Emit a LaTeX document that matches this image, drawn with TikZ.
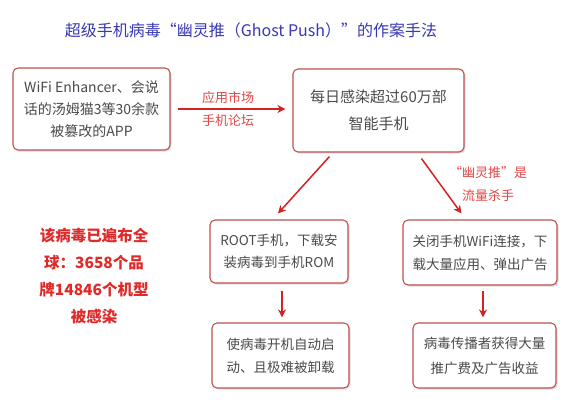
\documentclass[tikz,border=0pt]{standalone}
\usepackage{fontspec}
\setmainfont{Noto Sans CJK SC}
\usetikzlibrary{shadows,arrows.meta}
\definecolor{boxred}{HTML}{C0504D}
\definecolor{arrred}{HTML}{D42222}
\definecolor{txtgray}{HTML}{4A4A4A}
\definecolor{titleblue}{HTML}{3838B4}
\definecolor{lblred}{HTML}{E04848}
\definecolor{bigred}{HTML}{E02A2A}
\tikzset{
  box/.style={draw=boxred, line width=1.1pt, rounded corners=5pt, fill=white,
    drop shadow={shadow xshift=1.5pt, shadow yshift=-1.5pt, fill=black!25},
    align=center, text=txtgray, inner sep=2pt},
  arr/.style={draw=arrred, line width=1.5pt, -{Stealth[length=8pt,width=8pt]}},
  lbl/.style={text=lblred, align=center, font=\fontsize{13}{23}\selectfont},
}
\begin{document}
\begin{tikzpicture}[x=1pt,y=-1pt]
\useasboundingbox (0,0) rectangle (578,409);
\fill[white] (0,0) rectangle (578,409);
\node[text=titleblue, font=\fontsize{16}{20}\selectfont] (title) at (251,30) {超级手机病毒“幽灵推（Ghost Push）”的作案手法};

\node[box, minimum width=157pt, minimum height=82pt, font=\fontsize{14}{22}\selectfont] (b1) at (91.5,109) {WiFi Enhancer、会说\\话的汤姆猫3等30余款\\被篡改的APP};
\node[box, minimum width=171pt, minimum height=83pt, font=\fontsize{15}{27}\selectfont] (b2) at (378.5,110.5) {每日感染超过60万部\\智能手机};
\node[box, minimum width=138pt, minimum height=63pt, font=\fontsize{13.5}{22}\selectfont] (b3) at (279,251.5) {ROOT手机，下载安\\装病毒到手机ROM};
\node[box, minimum width=137pt, minimum height=65pt, font=\fontsize{13.5}{23}\selectfont] (b4) at (280.5,355.5) {使病毒开机自动启\\动、且极难被卸载};
\node[box, minimum width=154pt, minimum height=65pt, font=\fontsize{13.5}{23}\selectfont] (b5) at (480,252.5) {关闭手机WiFi连接，下\\载大量应用、弹出广告};
\node[box, minimum width=143pt, minimum height=65pt, font=\fontsize{13.5}{25}\selectfont] (b6) at (484.5,355.5) {病毒传播者获得大量\\推广费及广告收益};

\node[lbl] (l1) at (228,109) {应用市场\\手机论坛};
\node[lbl] (l2) at (488,184) {“幽灵推”是\\流量杀手};

\node[text=bigred, align=center, font=\bfseries\fontsize{15.5}{27}\selectfont] (side) at (94,276) {该病毒已遍布全\\球：3658个品\\牌14846个机型\\被感染};

\draw[arr, shorten <=7pt, shorten >=7pt] (b1.east) -- (b1.east -| b2.west);
\draw[arr] ([xshift=37pt,yshift=-4pt]b2.south west) -- ([xshift=-1pt,yshift=6pt]b3.north);
\draw[arr] ([xshift=129pt,yshift=-6pt]b2.south west) -- ([xshift=59pt,yshift=6pt]b5.north west);
\draw[arr, shorten <=7pt, shorten >=5pt] ([xshift=3pt]b3.south) -- ([xshift=3pt]b3.south |- b4.north);
\draw[arr, shorten <=5pt, shorten >=5pt] ([xshift=3pt]b5.south) -- ([xshift=3pt]b5.south |- b6.north);
\end{tikzpicture}
\end{document}
